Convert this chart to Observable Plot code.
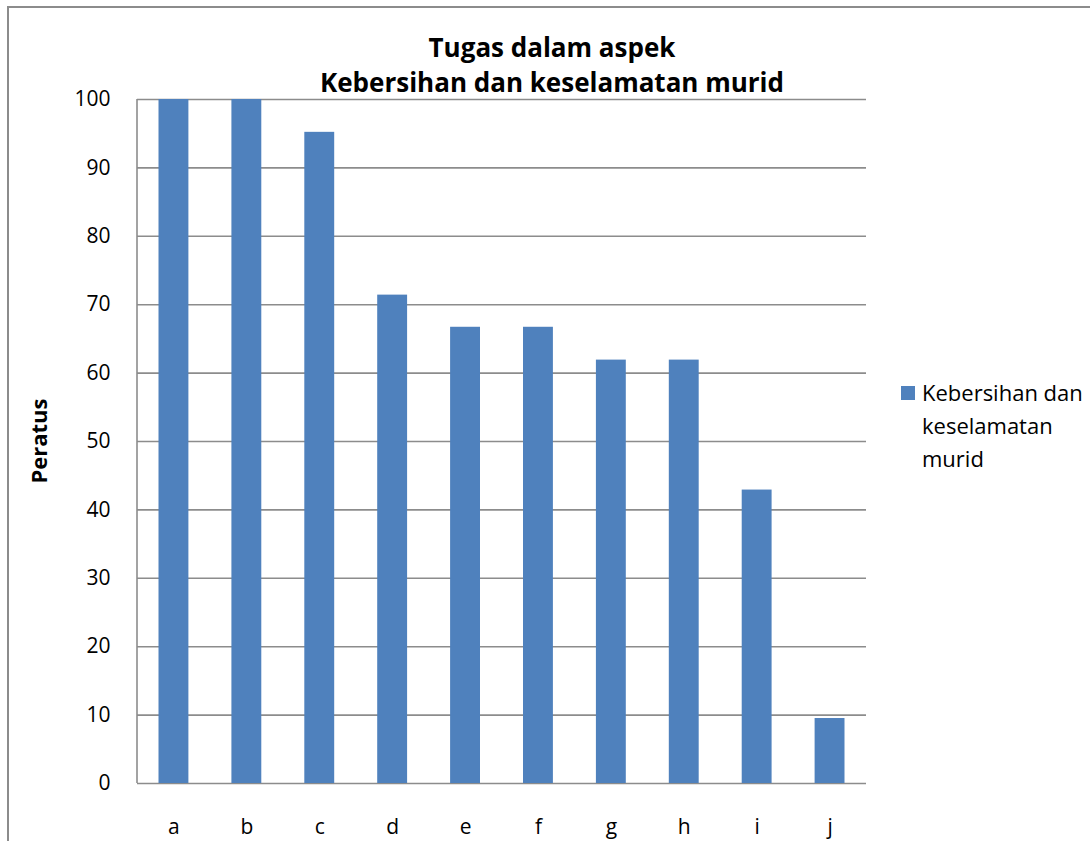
<!DOCTYPE html>
<html>
<head>
<meta charset="utf-8">
<script src="https://cdn.jsdelivr.net/npm/d3@7"></script>
<script src="https://cdn.jsdelivr.net/npm/@observablehq/plot@0.6"></script>
<style>
  html, body { margin: 0; padding: 0; background: #fff; overflow: hidden; }
  body { width: 1090px; height: 841px; position: relative; font-family: "Open Sans", sans-serif; }
  #border { position: absolute; left: 7px; top: 6px; width: 1200px; height: 1000px; border: 2px solid #8c8c8c; box-sizing: border-box; }
  #chart { position: absolute; left: 0; top: 0; }
  #title { position: absolute; left: 280px; width: 544px; top: 30px; text-align: center; font-weight: bold; font-size: 26px; line-height: 35px; color: #000; }
  #ylabel { position: absolute; left: 38px; top: 441px; transform: translate(-50%, -50%) rotate(-90deg); font-weight: bold; font-size: 22px; white-space: nowrap; }
  #legend { position: absolute; left: 901px; top: 376px; font-size: 22px; line-height: 33px; color: #000; }
  #legend .sw { position: absolute; left: 0; top: 10px; width: 14px; height: 14px; }
  #legend .txt { position: absolute; left: 21px; top: 0; white-space: nowrap; }
</style>
</head>
<body>
<div id="border"></div>
<div id="chart"></div>
<div id="title">Tugas dalam aspek<br>Kebersihan dan keselamatan murid</div>
<div id="ylabel">Peratus</div>
<div id="legend"></div>
<script>
const categories = ["a", "b", "c", "d", "e", "f", "g", "h", "i", "j"];
const values = [100, 100, 95.2, 71.4, 66.7, 66.7, 61.9, 61.9, 42.9, 9.5];
const yTicks = [0, 10, 20, 30, 40, 50, 60, 70, 80, 90, 100];
const seriesName = "Kebersihan dan keselamatan murid";
const legendLines = ["Kebersihan dan", "keselamatan", "murid"];
const barColor = "#4F81BD";

const data = categories.map((c, i) => ({cat: c, value: values[i]}));

const plot = Plot.plot({
  width: 1090,
  height: 841,
  marginLeft: 137,
  marginRight: 224,
  marginTop: 99,
  marginBottom: 58,
  style: {fontFamily: "Open Sans, sans-serif", fontSize: "21px", color: "#000", background: "transparent"},
  x: {domain: categories, paddingInner: 0.59, paddingOuter: 0.295, round: false, label: null},
  y: {domain: [0, 100], ticks: yTicks, label: null},
  marks: [
    Plot.ruleY(yTicks, {stroke: "#8c8c8c", strokeWidth: 1.6}),
    Plot.barY(data, {x: "cat", y: "value", fill: barColor}),
    Plot.axisY(yTicks, {tickSize: 0, tickPadding: 27, fontSize: 21, fill: "#000"}),
    Plot.axisX({tickSize: 0, tickPadding: 36, fontSize: 21, fill: "#000"})
  ]
});
document.getElementById("chart").appendChild(plot);

// left axis line drawn from the plot's own scales
const xs = plot.scale("x"), ys = plot.scale("y");
const x0 = Math.min(...xs.range);
d3.select(plot).append("line")
  .attr("x1", x0).attr("x2", x0)
  .attr("y1", ys.apply(0)).attr("y2", ys.apply(100))
  .attr("stroke", "#8c8c8c").attr("stroke-width", 1.6);

const lg = document.getElementById("legend");
const sw = document.createElement("div");
sw.className = "sw"; sw.style.background = barColor;
lg.appendChild(sw);
const txt = document.createElement("div");
txt.className = "txt";
txt.innerHTML = legendLines.join("<br>");
txt.title = seriesName;
lg.appendChild(txt);
</script>
</body>
</html>
